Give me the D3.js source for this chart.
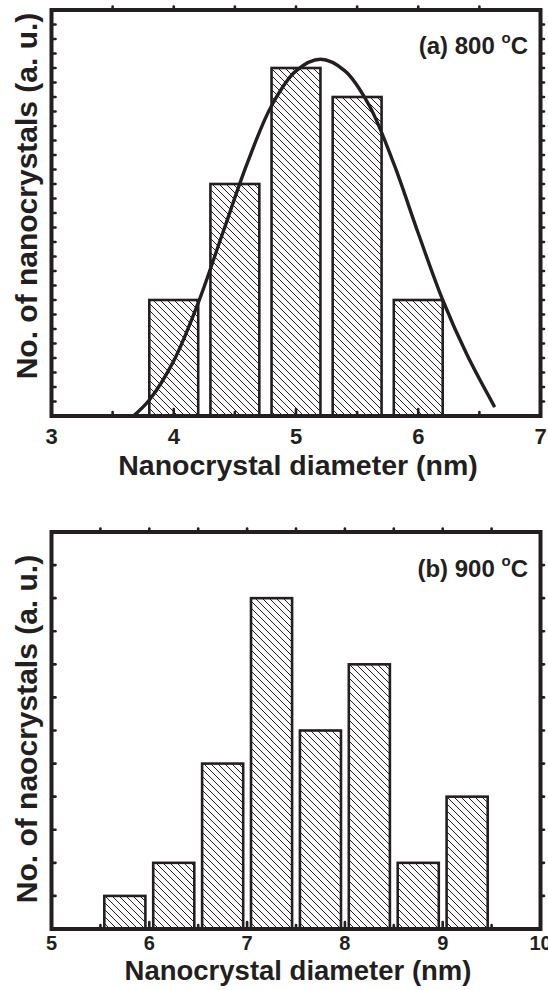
<!DOCTYPE html>
<html>
<head>
<meta charset="utf-8">
<script src="https://cdn.jsdelivr.net/npm/d3@7"></script>
<style>
  html, body { margin: 0; padding: 0; background: #fff; }
  svg { display: block; }
  text { font-family: "Liberation Sans", Arial, Helvetica, sans-serif; font-weight: bold; fill: #231f20; }
</style>
</head>
<body>
<svg id="chart" width="548" height="990"></svg>
<script>
// Panel (a): 800 °C size distribution with Gaussian fit
const diameterA = [4.0, 4.5, 5.0, 5.5, 6.0];
const countA = [4, 8, 12, 11, 4];
const fitDiameterA = [3.67, 3.8, 4.0, 4.2, 4.4, 4.6, 4.8, 5.0, 5.2, 5.4, 5.6, 5.8, 6.0, 6.2, 6.4, 6.62];
const fitCountA = [0, 0.55, 1.9, 3.9, 6.3, 8.7, 10.7, 11.9, 12.3, 11.9, 10.7, 8.7, 6.3, 4.0, 2.1, 0.35];
const tickLabelsA = [3, 4, 5, 6, 7];

// Panel (b): 900 °C size distribution
const diameterB = [5.75, 6.25, 6.75, 7.25, 7.75, 8.25, 8.75, 9.25];
const countB = [1, 2, 5, 10, 6, 8, 2, 4];
const tickLabelsB = [5, 6, 7, 8, 9, 10];

const ink = "#231f20";
const svg = d3.select("#chart");

// diagonal hatch fill
const defs = svg.append("defs");
const pat = defs.append("pattern")
  .attr("id", "hatch").attr("patternUnits", "userSpaceOnUse")
  .attr("width", 7).attr("height", 7);
pat.append("rect").attr("width", 7).attr("height", 7).attr("fill", "#fff");
pat.append("path")
  .attr("d", "M0,0L7,7M-1,6L1,8M6,-1L8,1")
  .attr("stroke", ink).attr("stroke-width", 1);

function panel(opts) {
  const { left, right, top, bottom, xDomain, yDomain, diam, count, barWidth,
          xMinorStep, yMinorStep, tickLabels, labelBaseline, labelSize,
          titleBaseline, titleSize, yTitle, yTitleCenter, tag, tagBaseline } = opts;
  const x = d3.scaleLinear().domain(xDomain).range([left, right]);
  const y = d3.scaleLinear().domain(yDomain).range([bottom, top]);
  const g = svg.append("g");

  // bars
  g.selectAll("rect.bar").data(diam).join("rect")
    .attr("class", "bar")
    .attr("x", d => x(d - barWidth / 2))
    .attr("width", d => x(d + barWidth / 2) - x(d - barWidth / 2))
    .attr("y", (d, i) => y(count[i]))
    .attr("height", (d, i) => y(0) - y(count[i]))
    .attr("fill", "url(#hatch)")
    .attr("stroke", ink).attr("stroke-width", 2.6);

  if (opts.fitX) {
    const line = d3.line().x(d => x(d[0])).y(d => y(d[1])).curve(d3.curveCatmullRom.alpha(0.5));
    g.append("path")
      .datum(opts.fitX.map((v, i) => [v, opts.fitY[i]]))
      .attr("d", line)
      .attr("fill", "none").attr("stroke", ink).attr("stroke-width", 3.4)
      .attr("stroke-linecap", "round");
  }

  // ticks
  const xTicks = d3.range(xDomain[0] + xMinorStep, xDomain[1] - 1e-9, xMinorStep);
  const yTicks = d3.range(yDomain[0] + yMinorStep, yDomain[1] - 1e-9, yMinorStep);
  const isMajor = v => Math.abs(v - Math.round(v)) < 1e-6;
  const tk = g.append("g").attr("stroke", ink).attr("stroke-width", 2.6).attr("stroke-linecap", "round");
  xTicks.forEach(v => {
    const len = isMajor(v) ? 7 : 4;
    tk.append("line").attr("x1", x(v)).attr("x2", x(v)).attr("y1", bottom).attr("y2", bottom - len);
    tk.append("line").attr("x1", x(v)).attr("x2", x(v)).attr("y1", top).attr("y2", top - 3.5);
  });
  yTicks.forEach(v => {
    tk.append("line").attr("x1", left).attr("x2", left + 4).attr("y1", y(v)).attr("y2", y(v));
    tk.append("line").attr("x1", right).attr("x2", right + 3.5).attr("y1", y(v)).attr("y2", y(v));
  });

  // frame
  g.append("rect")
    .attr("x", left).attr("y", top)
    .attr("width", right - left).attr("height", bottom - top)
    .attr("fill", "none").attr("stroke", ink).attr("stroke-width", 4);

  // tick labels
  g.selectAll("text.tl").data(tickLabels).join("text")
    .attr("class", "tl")
    .attr("x", d => x(d)).attr("y", labelBaseline)
    .attr("text-anchor", "middle").attr("font-size", labelSize)
    .text(d => d);

  // axis titles
  g.append("text")
    .attr("x", (left + right) / 2 + 2).attr("y", titleBaseline)
    .attr("text-anchor", "middle").attr("font-size", titleSize)
    .text("Nanocrystal diameter (nm)");
  g.append("text")
    .attr("transform", `translate(37,${yTitleCenter}) rotate(-90)`)
    .attr("text-anchor", "middle").attr("font-size", 30)
    .text(yTitle);

  // temperature tag
  const t = g.append("text")
    .attr("x", 528).attr("y", tagBaseline)
    .attr("text-anchor", "end").attr("font-size", 24);
  t.append("tspan").text(tag + " ");
  t.append("tspan").attr("font-size", 15).attr("dy", -11).text("o");
  t.append("tspan").attr("dy", 11).text("C");
}

panel({
  left: 51.5, right: 540.5, top: 10, bottom: 416,
  xDomain: [3, 7], yDomain: [0, 14],
  diam: diameterA, count: countA, barWidth: 0.4,
  fitX: fitDiameterA, fitY: fitCountA,
  xMinorStep: 0.5, yMinorStep: 0.5,
  tickLabels: tickLabelsA, labelBaseline: 444, labelSize: 22,
  titleBaseline: 475, titleSize: 28.5,
  yTitle: "No. of nanocrystals (a. u.)", yTitleCenter: 196,
  tag: "(a) 800", tagBaseline: 54
});

panel({
  left: 51.5, right: 540.5, top: 532, bottom: 929,
  xDomain: [5, 10], yDomain: [0, 12],
  diam: diameterB, count: countB, barWidth: 0.42,
  xMinorStep: 0.5, yMinorStep: 1,
  tickLabels: tickLabelsB, labelBaseline: 950, labelSize: 20,
  titleBaseline: 980, titleSize: 27.5,
  yTitle: "No. of naocrystals (a. u.)", yTitleCenter: 729,
  tag: "(b) 900", tagBaseline: 577
});
</script>
</body>
</html>
